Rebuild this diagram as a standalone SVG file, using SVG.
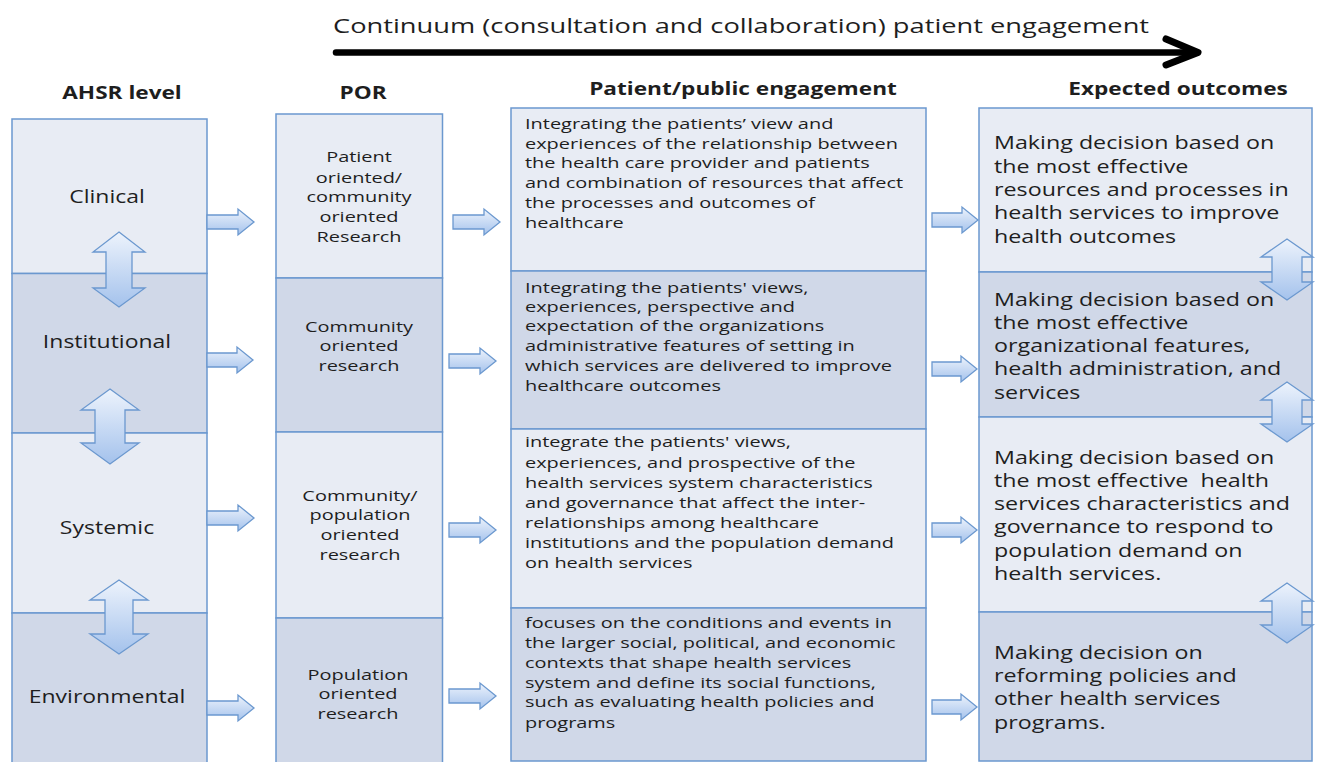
<svg xmlns="http://www.w3.org/2000/svg" width="1317" height="762" viewBox="0 0 1317 762">
<defs>
<linearGradient id="ag" x1="0" y1="0" x2="0" y2="1">
<stop offset="0" stop-color="#edf3fc"/>
<stop offset="1" stop-color="#a4c2ec"/>
</linearGradient>
<style>
.lt{fill:#e8ecf4;stroke:#6b98cf;stroke-width:1.5}
.dk{fill:#d0d8e8;stroke:#6b98cf;stroke-width:1.5}
.ar{fill:url(#ag);stroke:#6b98cf;stroke-width:1.3;stroke-linejoin:miter}
text{font-family:"Open Sans","Liberation Sans",sans-serif;fill:#1e1e1e}
.h{font-weight:bold;font-size:17px;text-anchor:middle}
.c1{font-size:17.3px;text-anchor:middle}
.c2{font-size:15px;text-anchor:middle}
.c3{font-size:15px}
.c4{font-size:17.5px}
.ti{font-size:20.5px}
</style>
</defs>
<rect width="1317" height="762" fill="#ffffff"/>

<g id="title">
<text class="ti" transform="matrix(1.33 0 0 1 333 33)">Continuum (consultation and collaboration) patient engagement</text>
</g>

<g id="headers">
<text class="h" transform="matrix(1.33 0 0 1 122 99)">AHSR level</text>
<text class="h" transform="matrix(1.33 0 0 1 363 99)">POR</text>
<text class="h" transform="matrix(1.33 0 0 1 743 95)">Patient/public engagement</text>
<text class="h" transform="matrix(1.33 0 0 1 1178 95)">Expected outcomes</text>
</g>

<!-- Column 1: AHSR level -->
<g id="ahsr-clinical">
<rect class="lt" x="12" y="119" width="195" height="154.5"/>
<text class="c1" transform="matrix(1.33 0 0 1 107 203)">Clinical</text>
</g>
<g id="ahsr-institutional">
<rect class="dk" x="12" y="273.5" width="195" height="159.5"/>
<text class="c1" transform="matrix(1.33 0 0 1 107 348)">Institutional</text>
</g>
<g id="ahsr-systemic">
<rect class="lt" x="12" y="433" width="195" height="180"/>
<text class="c1" transform="matrix(1.33 0 0 1 107 534)">Systemic</text>
</g>
<g id="ahsr-environmental">
<rect class="dk" x="12" y="613" width="195" height="160"/>
<text class="c1" transform="matrix(1.33 0 0 1 107 703)">Environmental</text>
</g>

<!-- Column 2: POR -->
<g id="por-1">
<rect class="lt" x="276" y="114" width="166.5" height="164"/>
<text class="c2" transform="matrix(1.33 0 0 1 359 0)"><tspan x="0" y="162">Patient</tspan><tspan x="0" y="183">oriented/</tspan><tspan x="0" y="202">community</tspan><tspan x="0" y="222">oriented</tspan><tspan x="0" y="242">Research</tspan></text>
</g>
<g id="por-2">
<rect class="dk" x="276" y="278" width="166.5" height="154"/>
<text class="c2" transform="matrix(1.33 0 0 1 359 0)"><tspan x="0" y="332">Community</tspan><tspan x="0" y="351">oriented</tspan><tspan x="0" y="371">research</tspan></text>
</g>
<g id="por-3">
<rect class="lt" x="276" y="432" width="166.5" height="186"/>
<text class="c2" transform="matrix(1.33 0 0 1 360 0)"><tspan x="0" y="501">Community/</tspan><tspan x="0" y="520">population</tspan><tspan x="0" y="540">oriented</tspan><tspan x="0" y="560">research</tspan></text>
</g>
<g id="por-4">
<rect class="dk" x="276" y="618" width="166.5" height="160"/>
<text class="c2" transform="matrix(1.33 0 0 1 358 0)"><tspan x="0" y="680">Population</tspan><tspan x="0" y="699">oriented</tspan><tspan x="0" y="719">research</tspan></text>
</g>

<!-- Column 3: Patient/public engagement -->
<g id="ppe-1">
<rect class="lt" x="511" y="108" width="415" height="163"/>
<text class="c3" transform="matrix(1.33 0 0 1 525 0)"><tspan x="0" y="129">Integrating the patients’ view and</tspan><tspan x="0" y="149">experiences of the relationship between</tspan><tspan x="0" y="168">the health care provider and patients</tspan><tspan x="0" y="188">and combination of resources that affect</tspan><tspan x="0" y="208">the processes and outcomes of</tspan><tspan x="0" y="228">healthcare</tspan></text>
</g>
<g id="ppe-2">
<rect class="dk" x="511" y="271" width="415" height="158"/>
<text class="c3" transform="matrix(1.33 0 0 1 525 0)"><tspan x="0" y="293">Integrating the patients' views,</tspan><tspan x="0" y="312">experiences, perspective and</tspan><tspan x="0" y="331">expectation of the organizations</tspan><tspan x="0" y="351">administrative features of setting in</tspan><tspan x="0" y="371">which services are delivered to improve</tspan><tspan x="0" y="391">healthcare outcomes</tspan></text>
</g>
<g id="ppe-3">
<rect class="lt" x="511" y="429" width="415" height="179"/>
<text class="c3" transform="matrix(1.33 0 0 1 525 0)"><tspan x="0" y="447">integrate the patients' views,</tspan><tspan x="0" y="468">experiences, and prospective of the</tspan><tspan x="0" y="488">health services system characteristics</tspan><tspan x="0" y="508">and governance that affect the inter-</tspan><tspan x="0" y="528">relationships among healthcare</tspan><tspan x="0" y="548">institutions and the population demand</tspan><tspan x="0" y="568">on health services</tspan></text>
</g>
<g id="ppe-4">
<rect class="dk" x="511" y="608" width="415" height="153"/>
<text class="c3" transform="matrix(1.33 0 0 1 525 0)"><tspan x="0" y="628">focuses on the conditions and events in</tspan><tspan x="0" y="648">the larger social, political, and economic</tspan><tspan x="0" y="668">contexts that shape health services</tspan><tspan x="0" y="688">system and define its social functions,</tspan><tspan x="0" y="707">such as evaluating health policies and</tspan><tspan x="0" y="728">programs</tspan></text>
</g>

<!-- Column 4: Expected outcomes -->
<g id="out-1">
<rect class="lt" x="979" y="108" width="333" height="164"/>
<text class="c4" transform="matrix(1.33 0 0 1 994 0)"><tspan x="0" y="149">Making decision based on</tspan><tspan x="0" y="173">the most effective</tspan><tspan x="0" y="196">resources and processes in</tspan><tspan x="0" y="219">health services to improve</tspan><tspan x="0" y="243">health outcomes</tspan></text>
</g>
<g id="out-2">
<rect class="dk" x="979" y="272" width="333" height="145"/>
<text class="c4" transform="matrix(1.33 0 0 1 994 0)"><tspan x="0" y="306">Making decision based on</tspan><tspan x="0" y="329">the most effective</tspan><tspan x="0" y="352">organizational features,</tspan><tspan x="0" y="375">health administration, and</tspan><tspan x="0" y="399">services</tspan></text>
</g>
<g id="out-3">
<rect class="lt" x="979" y="417" width="333" height="195"/>
<text class="c4" transform="matrix(1.33 0 0 1 994 0)" xml:space="preserve"><tspan x="0" y="464">Making decision based on</tspan><tspan x="0" y="487">the most effective  health</tspan><tspan x="0" y="510">services characteristics and</tspan><tspan x="0" y="533">governance to respond to</tspan><tspan x="0" y="557">population demand on</tspan><tspan x="0" y="580">health services.</tspan></text>
</g>
<g id="out-4">
<rect class="dk" x="979" y="612" width="333" height="149"/>
<text class="c4" transform="matrix(1.33 0 0 1 994 0)"><tspan x="0" y="659">Making decision on</tspan><tspan x="0" y="682">reforming policies and</tspan><tspan x="0" y="705">other health services</tspan><tspan x="0" y="729">programs.</tspan></text>
</g>

<g id="connectors">
<!-- continuum arrow -->
<line x1="336" y1="52.5" x2="1194" y2="52.5" stroke="#000" stroke-width="6.5" stroke-linecap="round"/>
<polyline points="1166,39 1198,52.5 1166,65" fill="none" stroke="#000" stroke-width="7" stroke-linecap="round" stroke-linejoin="round"/>

<!-- horizontal block arrows: row 1 -->
<polygon class="ar" points="207,215 238,215 238,209 254,222 238,235 238,229 207,229"/>
<polygon class="ar" points="453,215 484,215 484,209 500,222 484,235 484,229 453,229"/>
<polygon class="ar" points="932,213 962,213 962,207 978,220 962,233 962,227 932,227"/>
<!-- row 2 -->
<polygon class="ar" points="207,353 237,353 237,347 253,360 237,373 237,367 207,367"/>
<polygon class="ar" points="449,354 480,354 480,348 496,361 480,374 480,368 449,368"/>
<polygon class="ar" points="932,362 961,362 961,356 977,369 961,382 961,376 932,376"/>
<!-- row 3 -->
<polygon class="ar" points="207,511 238,511 238,505 254,518 238,531 238,525 207,525"/>
<polygon class="ar" points="449,523 480,523 480,517 496,530 480,543 480,537 449,537"/>
<polygon class="ar" points="932,523 961,523 961,517 977,530 961,543 961,537 932,537"/>
<!-- row 4 -->
<polygon class="ar" points="207,701 238,701 238,695 254,708 238,721 238,715 207,715"/>
<polygon class="ar" points="449,689 480,689 480,683 496,696 480,709 480,703 449,703"/>
<polygon class="ar" points="932,700 961,700 961,694 977,707 961,720 961,714 932,714"/>

<!-- vertical double arrows: AHSR column -->
<polygon class="ar" points="119,232 145,252 132,252 132,288 145,288 119,307 93,288 106,288 106,252 93,252"/>
<polygon class="ar" points="110,389 139,410 125,410 125,443 139,443 110,464 81,443 95,443 95,410 81,410"/>
<polygon class="ar" points="119,580 148,600 133,600 133,634 148,634 119,654 90,634 105,634 105,600 90,600"/>

<!-- vertical double arrows: outcomes column -->
<polygon class="ar" points="1287,239 1313,257 1302,257 1302,282 1313,282 1287,300 1261,282 1272,282 1272,257 1261,257"/>
<polygon class="ar" points="1287,382 1313,400 1302,400 1302,424 1313,424 1287,442 1261,424 1272,424 1272,400 1261,400"/>
<polygon class="ar" points="1287,583 1313,601 1302,601 1302,625 1313,625 1287,643 1261,625 1272,625 1272,601 1261,601"/>
</g>
</svg>
